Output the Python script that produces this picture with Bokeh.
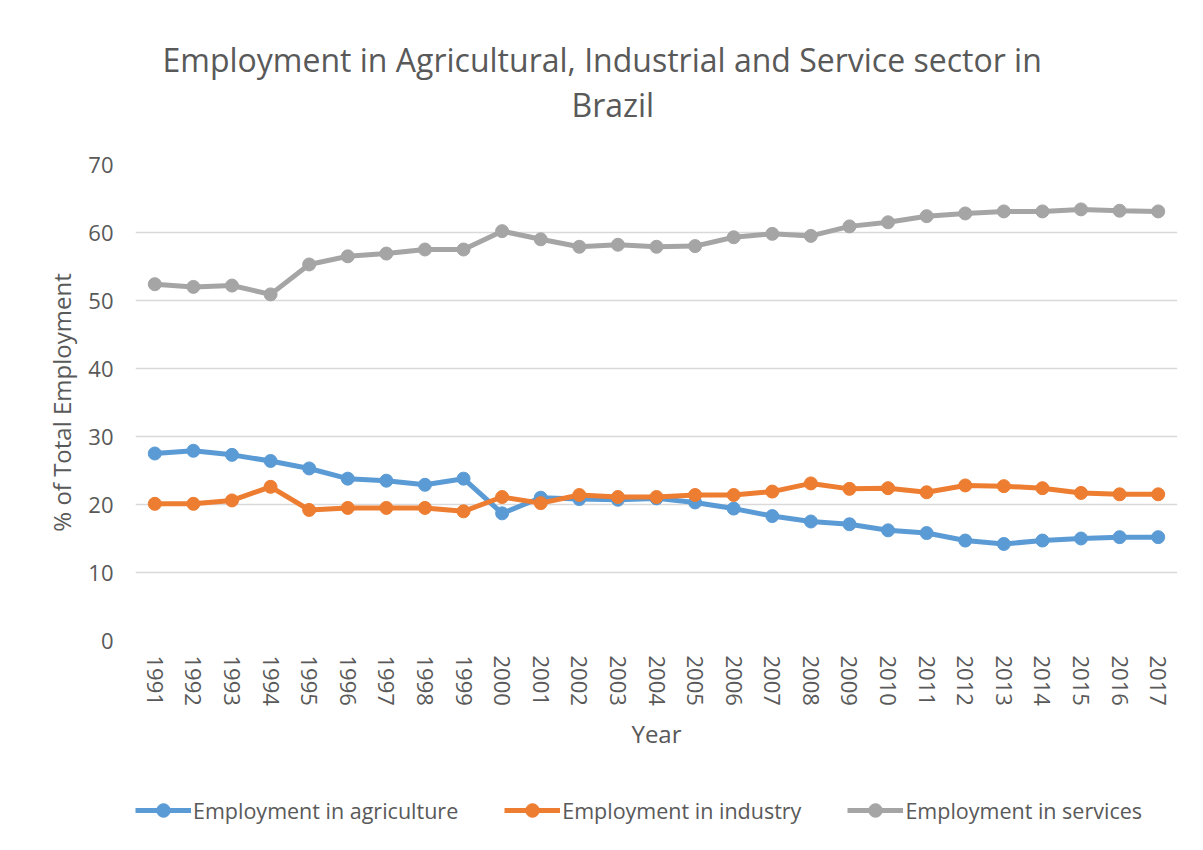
from bokeh.plotting import figure
from bokeh.models import Legend, LegendItem, Title, FixedTicker, Range1d
from bokeh.layouts import column
from bokeh.embed import file_html
from bokeh.resources import INLINE

years = list(range(1991, 2018))
agriculture = [27.5, 27.9, 27.3, 26.4, 25.3, 23.8, 23.5, 22.9, 23.8, 18.7,
               21.0, 20.8, 20.7, 20.9, 20.3, 19.4, 18.3, 17.5, 17.1, 16.2,
               15.8, 14.7, 14.2, 14.7, 15.0, 15.2, 15.2]
industry = [20.1, 20.1, 20.6, 22.6, 19.2, 19.5, 19.5, 19.5, 19.0, 21.1,
            20.2, 21.4, 21.1, 21.1, 21.4, 21.4, 21.9, 23.1, 22.3, 22.4,
            21.8, 22.8, 22.7, 22.4, 21.7, 21.5, 21.5]
services = [52.4, 52.0, 52.2, 50.9, 55.3, 56.5, 56.9, 57.5, 57.5, 60.2,
            59.0, 57.9, 58.2, 57.9, 58.0, 59.3, 59.8, 59.5, 60.9, 61.5,
            62.4, 62.8, 63.1, 63.1, 63.4, 63.2, 63.1]
series_names = ["Employment in agriculture", "Employment in industry", "Employment in services"]
colors = ["#5B9BD5", "#ED7D31", "#A5A5A5"]
y_ticks = [0, 10, 20, 30, 40, 50, 60, 70]
title_lines = ["Employment in Agricultural, Industrial and Service sector in", "Brazil"]

FONT = "Open Sans"
TXT = "#595959"

p = figure(width=1203, height=770, output_backend="svg", toolbar_location=None,
           x_range=Range1d(1990.5, 2017.5), y_range=Range1d(0, 70),
           min_border_left=135, min_border_right=26, min_border_top=164,
           min_border_bottom=130, title=None)
p.outline_line_color = None
p.background_fill_color = "white"
p.border_fill_color = "white"

p.xgrid.grid_line_color = None
p.ygrid.grid_line_color = "#D9D9D9"
p.ygrid.grid_line_width = 1.5

p.yaxis.ticker = FixedTicker(ticks=y_ticks)
p.xaxis.ticker = FixedTicker(ticks=years)
p.xaxis.major_label_orientation = "vertical"
for ax in (p.xaxis, p.yaxis):
    ax.axis_line_color = None
    ax.major_tick_line_color = None
    ax.minor_tick_line_color = None
    ax.major_label_text_font = FONT
    ax.major_label_text_color = TXT
    ax.major_label_text_font_size = "22px"
    ax.axis_label_text_font = FONT
    ax.axis_label_text_color = TXT
    ax.axis_label_text_font_size = "24px"
    ax.axis_label_text_font_style = "normal"
p.yaxis.major_label_standoff = 16
p.xaxis.major_label_standoff = 9
p.yaxis.axis_label = "% of Total Employment"
p.xaxis.axis_label = "Year"
p.yaxis.axis_label_standoff = 7
p.xaxis.axis_label_standoff = 8

for vals, c in zip([agriculture, industry, services], colors):
    p.line(years, vals, line_color=c, line_width=5)
    p.scatter(years, vals, size=13, fill_color=c, line_color=c)

# title lines (first added sits closest to the frame)
p.add_layout(Title(text=" ", text_font_size="2px", standoff=35), "above")
p.add_layout(Title(text=title_lines[1], align="left", offset=436, standoff=0,
                   text_font=FONT, text_font_size="32px", text_color=TXT,
                   text_font_style="normal"), "above")
p.add_layout(Title(text=title_lines[0], align="left", offset=27, standoff=0,
                   text_font=FONT, text_font_size="32px", text_color=TXT,
                   text_font_style="normal"), "above")

# legend strip below the chart (series drawn out of view; only the legend shows)
lg = figure(width=1203, height=80, output_backend="svg", toolbar_location=None,
            x_range=Range1d(0, 1), y_range=Range1d(0, 1),
            min_border=0, min_border_left=135, min_border_right=26, title=None)
lg.axis.visible = False
lg.grid.visible = False
lg.outline_line_color = None
items = []
for name, vals, c in zip(series_names, [agriculture, industry, services], colors):
    r1 = lg.line(years, vals, line_color=c, line_width=5)
    r2 = lg.scatter(years, vals, size=13, fill_color=c, line_color=c)
    items.append(LegendItem(label=name, renderers=[r1, r2]))
legend = Legend(items=items, orientation="horizontal", location=(0, 23),
                label_text_font=FONT, label_text_color=TXT, label_text_font_size="21.5px",
                glyph_width=56, glyph_height=34, label_standoff=2, spacing=46,
                border_line_color=None, background_fill_alpha=0, margin=0, padding=0)
lg.add_layout(legend, "center")

layout = column(p, lg, spacing=0)
open("out.html", "w").write(file_html(layout, INLINE))
